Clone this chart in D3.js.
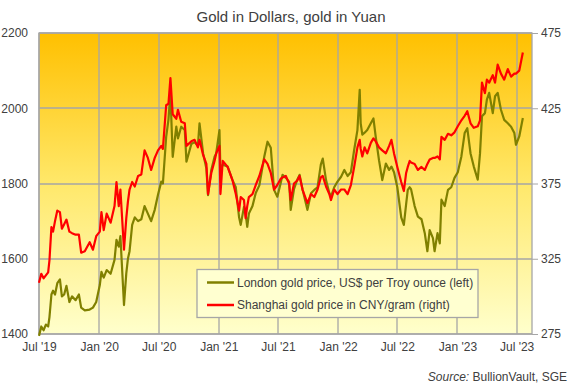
<!DOCTYPE html>
<html>
<head>
<meta charset="utf-8">
<script src="https://cdn.jsdelivr.net/npm/d3@7"></script>
<style>
  body { margin: 0; background: #fff; }
  svg text { font-family: "Liberation Sans", Arial, sans-serif; }
</style>
</head>
<body>
<div id="chart"></div>
<script>
// dates of the readings, London price (US$/oz) and Shanghai price (CNY/gram)
let dates = [
  "2019-07-01","2019-07-08","2019-07-15","2019-07-22","2019-07-29","2019-08-02","2019-08-08","2019-08-13",
  "2019-08-19","2019-08-26","2019-09-03","2019-09-09","2019-09-16","2019-09-23","2019-10-02","2019-10-10",
  "2019-10-21","2019-10-31","2019-11-07","2019-11-18","2019-12-03","2019-12-13","2019-12-23","2020-01-03",
  "2020-01-08","2020-01-15","2020-01-24","2020-02-05","2020-02-17","2020-02-23","2020-03-01","2020-03-06",
  "2020-03-17","2020-03-24","2020-03-29","2020-04-03","2020-04-11","2020-04-19","2020-04-29","2020-05-09",
  "2020-05-19","2020-05-29","2020-06-08","2020-06-19","2020-06-29","2020-07-09","2020-07-14","2020-07-24",
  "2020-07-31","2020-08-06","2020-08-13","2020-08-24","2020-08-29","2020-09-08","2020-09-19","2020-09-24",
  "2020-10-09","2020-10-19","2020-10-29","2020-11-03","2020-11-14","2020-11-24","2020-11-29","2020-12-09",
  "2020-12-19","2020-12-24","2021-01-03","2021-01-06","2021-01-13","2021-01-28","2021-02-12","2021-02-22",
  "2021-03-04","2021-03-09","2021-03-19","2021-03-24","2021-03-29","2021-04-03","2021-04-14","2021-04-24",
  "2021-05-05","2021-05-20","2021-05-30","2021-06-09","2021-06-19","2021-06-29","2021-07-09","2021-07-15",
  "2021-07-25","2021-08-04","2021-08-09","2021-08-19","2021-08-29","2021-09-05","2021-09-14","2021-09-29",
  "2021-10-10","2021-10-20","2021-10-30","2021-11-09","2021-11-15","2021-11-25","2021-12-05","2021-12-10",
  "2021-12-20","2021-12-30","2022-01-10","2022-01-20","2022-01-30","2022-02-09","2022-02-19","2022-03-01",
  "2022-03-08","2022-03-11","2022-03-16","2022-03-23","2022-03-31","2022-04-11","2022-04-19","2022-04-26",
  "2022-05-06","2022-05-16","2022-05-27","2022-06-06","2022-06-13","2022-06-21","2022-07-01","2022-07-13",
  "2022-07-21","2022-07-28","2022-08-02","2022-08-08","2022-08-12","2022-08-23","2022-09-02","2022-09-13",
  "2022-09-23","2022-10-01","2022-10-08","2022-10-18","2022-10-23","2022-11-01","2022-11-08","2022-11-13",
  "2022-11-23","2022-12-03","2022-12-13","2022-12-23","2023-01-02","2023-01-13","2023-01-23","2023-01-31",
  "2023-02-10","2023-02-20","2023-03-04","2023-03-11","2023-03-17","2023-03-26","2023-04-01","2023-04-08",
  "2023-04-19","2023-04-26","2023-05-04","2023-05-14","2023-05-24","2023-06-04","2023-06-14","2023-06-24",
  "2023-06-29","2023-07-09","2023-07-20"
];

let london = [
  1395,1420,1410,1425,1420,1445,1505,1515,
  1505,1535,1545,1500,1505,1528,1485,1500,
  1490,1505,1470,1463,1465,1470,1485,1530,
  1565,1550,1570,1560,1597,1650,1632,1660,
  1477,1561,1600,1620,1690,1710,1700,1705,
  1740,1720,1700,1730,1770,1805,1800,1924,
  1970,2040,1871,1951,1920,1951,1942,1858,
  1905,1910,1900,1960,1880,1840,1769,1836,
  1871,1880,1942,1835,1850,1845,1809,1790,
  1710,1690,1738,1720,1685,1720,1740,1775,
  1795,1871,1911,1895,1783,1765,1800,1823,
  1815,1805,1730,1785,1810,1823,1785,1730,
  1774,1783,1790,1850,1866,1809,1775,1765,
  1790,1805,1818,1836,1820,1830,1889,1942,
  2049,1960,1930,1935,1942,1960,1973,1924,
  1862,1809,1853,1836,1845,1830,1790,1710,
  1690,1745,1783,1790,1785,1740,1712,1705,
  1668,1620,1676,1655,1620,1668,1641,1757,
  1740,1783,1790,1815,1830,1872,1934,1947,
  1880,1845,1810,1880,1979,1987,2023,2041,
  1987,2032,2041,1996,1969,1960,1951,1934,
  1903,1925,1974
];

let shanghai = [
  309,315,312,314,316,324,346,343,
  350,357,356,345,348,351,343,342,
  341,341,329,330,336,331,340,343,
  356,344,355,349,360,376,360,371,
  331,352,363,371,376,373,380,381,
  397,392,384,392,397,400,398,427,
  428,445,421,418,424,416,415,400,
  403,404,399,404,394,388,368,382,
  390,395,400,368,390,386,377,368,
  357,366,364,352,360,366,368,374,
  380,391,388,382,371,374,378,379,
  380,375,364,375,377,380,371,362,
  368,366,371,379,380,373,368,364,
  371,368,371,371,368,374,386,399,
  404,398,393,399,395,402,405,403,
  399,397,395,400,404,395,386,376,
  370,382,386,390,389,388,384,386,
  384,388,391,392,392,393,391,406,
  404,408,407,409,413,417,420,423,
  415,412,413,417,442,435,444,442,
  447,442,454,448,444,451,446,448,
  448,450,462
];

let leftTicks = [1400, 1600, 1800, 2000, 2200];
let rightTicks = [275, 325, 375, 425, 475];
let xTicks = ["2019-07-01","2020-01-01","2020-07-01","2021-01-01","2021-07-01",
              "2022-01-01","2022-07-01","2023-01-01","2023-07-01"];
let seriesNames = ["London gold price, US$ per Troy ounce (left)",
                   "Shanghai gold price in CNY/gram (right)"];

let svgWidth = 575, svgHeight = 386;
let plot = { left: 39, right: 532, top: 33, bottom: 334 };

let parseDate = d3.timeParse("%Y-%m-%d");
let rows = dates.map((d, i) => ({ date: parseDate(d), usd: london[i], cny: shanghai[i] }));

let svg = d3.select("#chart").append("svg")
  .attr("width", svgWidth)
  .attr("height", svgHeight);

let xScale = d3.scaleTime()
  .domain([parseDate("2019-07-01"), parseDate("2023-08-17")])
  .range([plot.left, plot.right]);
let yLeft = d3.scaleLinear().domain([1400, 2200]).range([plot.bottom, plot.top]);
let yRight = d3.scaleLinear().domain([275, 475]).range([plot.bottom, plot.top]);

// background gradient
let grad = svg.append("defs").append("linearGradient")
  .attr("id", "bg").attr("x1", 0).attr("y1", 0).attr("x2", 0).attr("y2", 1);
grad.append("stop").attr("offset", "0%").attr("stop-color", "#ffc000");
grad.append("stop").attr("offset", "50%").attr("stop-color", "#ffe86a");
grad.append("stop").attr("offset", "100%").attr("stop-color", "#ffffcc");

svg.append("rect")
  .attr("x", plot.left).attr("y", plot.top)
  .attr("width", plot.right - plot.left).attr("height", plot.bottom - plot.top)
  .attr("fill", "url(#bg)");

// grid
let grid = svg.append("g").attr("stroke", "#a6a6a6").attr("stroke-width", 1.3);
grid.selectAll("line.h").data(leftTicks).enter().append("line")
  .attr("x1", plot.left).attr("x2", plot.right)
  .attr("y1", d => Math.round(yLeft(d))).attr("y2", d => Math.round(yLeft(d)));
grid.selectAll("line.v").data(xTicks).enter().append("line")
  .attr("y1", plot.top).attr("y2", plot.bottom)
  .attr("x1", d => Math.round(xScale(parseDate(d)))).attr("x2", d => Math.round(xScale(parseDate(d))));
svg.append("rect")
  .attr("x", plot.left).attr("y", plot.top)
  .attr("width", plot.right - plot.left).attr("height", plot.bottom - plot.top)
  .attr("fill", "none").attr("stroke", "#a6a6a6").attr("stroke-width", 1.3);

// axes
let axisLeft = svg.append("g")
  .attr("transform", `translate(${plot.left},0)`)
  .call(d3.axisLeft(yLeft).tickValues(leftTicks).tickFormat(d3.format("d")).tickSize(0).tickPadding(11));
let axisRight = svg.append("g")
  .attr("transform", `translate(${plot.right},0)`)
  .call(d3.axisRight(yRight).tickValues(rightTicks).tickSize(6).tickPadding(3));
let axisBottom = svg.append("g")
  .attr("transform", `translate(0,${plot.bottom})`)
  .call(d3.axisBottom(xScale).tickValues(xTicks.map(parseDate))
    .tickFormat(d3.timeFormat("%b '%y")).tickSize(0).tickPadding(8));
[axisLeft, axisRight, axisBottom].forEach(g => {
  g.select(".domain").remove();
  g.selectAll("text").style("font-size", "12px").attr("fill", "#404040");
  g.selectAll("line").attr("stroke", "#a6a6a6");
});

// lines
let lineUsd = d3.line().x(d => xScale(d.date)).y(d => yLeft(d.usd));
let lineCny = d3.line().x(d => xScale(d.date)).y(d => yRight(d.cny));
svg.append("path").datum(rows)
  .attr("d", lineUsd).attr("fill", "none")
  .attr("stroke", "#808000").attr("stroke-width", 2.2).attr("stroke-linejoin", "round");
svg.append("path").datum(rows)
  .attr("d", lineCny).attr("fill", "none")
  .attr("stroke", "#ff0000").attr("stroke-width", 2.2).attr("stroke-linejoin", "round");

// title
svg.append("text")
  .attr("x", 291).attr("y", 22)
  .attr("text-anchor", "middle")
  .style("font-size", "15px").attr("fill", "#404040")
  .text("Gold in Dollars, gold in Yuan");

// legend
let legend = svg.append("g");
legend.append("rect")
  .attr("x", 197).attr("y", 269.5).attr("width", 281).attr("height", 48)
  .attr("fill", "#ffffd0").attr("stroke", "#a6a6a6").attr("stroke-width", 1.3);
let colors = ["#808000", "#ff0000"];
seriesNames.forEach((name, i) => {
  let y = 282.5 + i * 22.5;
  legend.append("line")
    .attr("x1", 207).attr("x2", 234).attr("y1", y).attr("y2", y)
    .attr("stroke", colors[i]).attr("stroke-width", 2.5);
  legend.append("text")
    .attr("x", 237).attr("y", y).attr("dy", "0.35em")
    .style("font-size", "12px").attr("fill", "#404040")
    .text(name);
});

// source
let src = svg.append("text")
  .attr("x", 567).attr("y", 381)
  .attr("text-anchor", "end")
  .style("font-size", "12px").attr("fill", "#404040");
src.append("tspan").style("font-style", "italic").text("Source:");
src.append("tspan").text(" BullionVault, SGE");
</script>
</body>
</html>
